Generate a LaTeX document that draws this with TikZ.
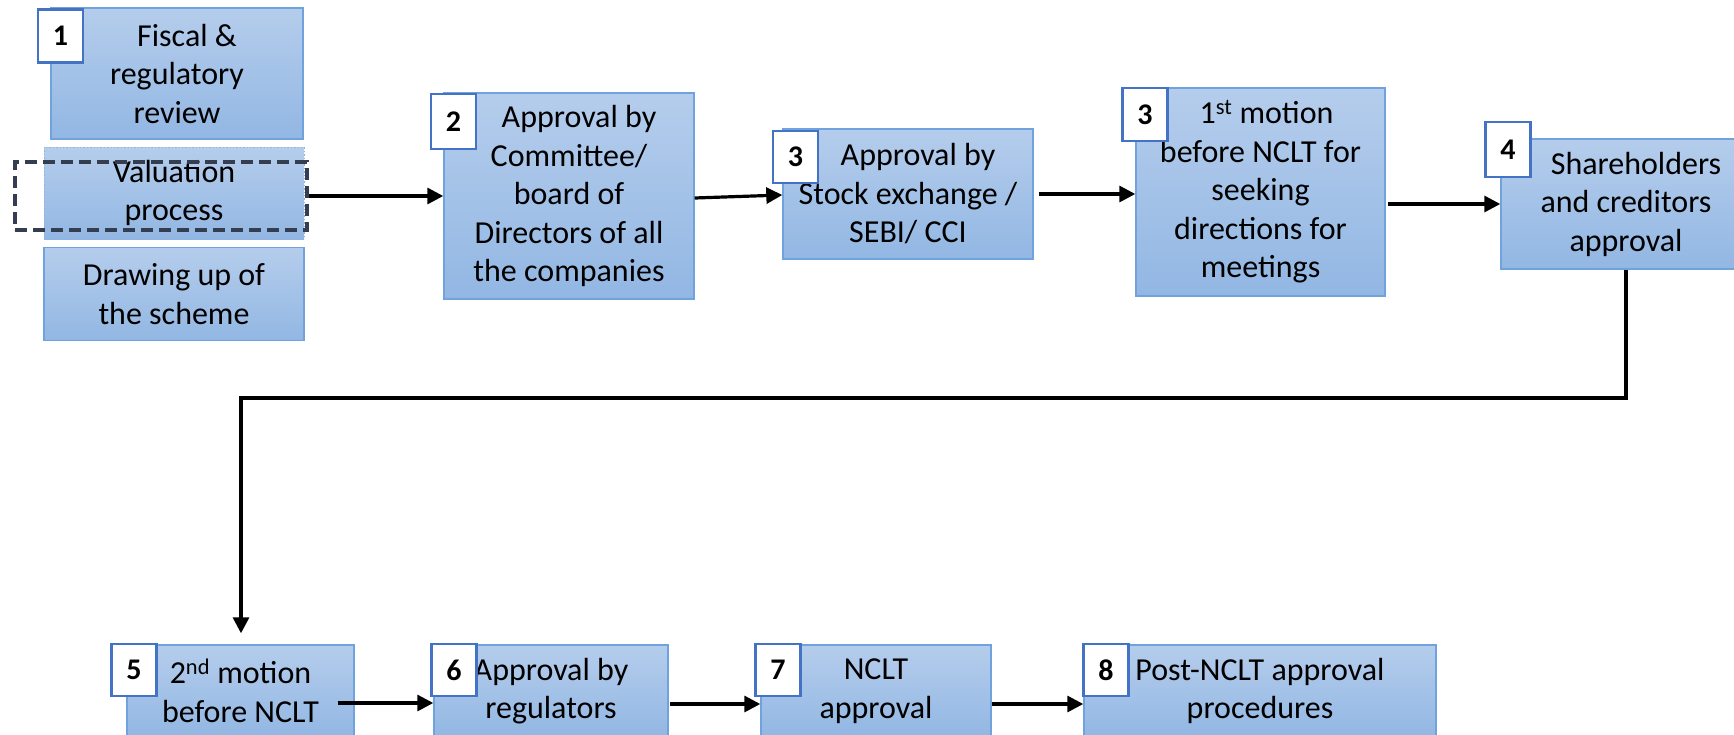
\documentclass[tikz,border=0pt]{standalone}
\usepackage{fontspec}
\setmainfont{Carlito}
\usetikzlibrary{arrows.meta}
\definecolor{boxtop}{RGB}{181,205,236}
\definecolor{boxbot}{RGB}{146,183,227}
\definecolor{boxline}{RGB}{112,162,221}
\definecolor{badgeline}{RGB}{68,114,196}
\definecolor{dashcol}{RGB}{52,62,80}
\tikzset{
  stepbox/.style={draw=boxline, line width=1.4pt, top color=boxtop, bottom color=boxbot,
    align=center, inner sep=0pt, font=\fontsize{32}{38.5}\selectfont, text=black},
  dotbox/.style={stepbox, draw=boxline!80, dotted, line width=1pt},
  dashrect/.style={draw=dashcol, line width=3.6pt, dash pattern=on 12pt off 6pt, inner sep=0pt},
  badge/.style={draw=badgeline, line width=2.4pt, fill=white, inner sep=0pt,
    minimum width=45pt, minimum height=53pt, font=\fontsize{30}{32}\selectfont\bfseries},
  arr/.style={draw=black, line width=3.2pt, -{Triangle[length=16pt,width=16pt]}}
}
\newcommand{\lead}{\hspace*{20pt}}
\begin{document}
\begin{tikzpicture}[x=1pt,y=-1pt]
\useasboundingbox (0,0) rectangle (1734,734);
\clip (0,0) rectangle (1734,734);
% column 1
\node[stepbox, minimum width=252pt, minimum height=131pt] (b1a) at (177,73.5) {\lead Fiscal \&\\regulatory\\review};
\node[badge] (n1) at (60.5,36) {1};
\node[dotbox, minimum width=260pt, minimum height=92pt] (b1b) at (174,193) {Valuation\\process};
\node[dashrect, minimum width=292pt, minimum height=68pt] (d1) at (161,196) {};
\node[stepbox, minimum width=260pt, minimum height=93pt] (b1c) at (174,294) {Drawing up of\\the scheme};
% top row
\node[stepbox, minimum width=250pt, minimum height=206pt] (b2) at (569,196) {\lead Approval by\\Committee/\\board of\\Directors of all\\the companies};
\node[badge, minimum height=55pt] (n2) at (453.5,121.5) {2};
\node[stepbox, minimum width=250pt, minimum height=130pt] (b3a) at (908,194) {\lead Approval by\\Stock exchange /\\SEBI/ CCI};
\node[badge, minimum height=52pt] (n3a) at (795.5,157) {3};
\node[stepbox, minimum width=249pt, minimum height=208pt] (b3b) at (1260.5,192) {\hspace*{12pt}1\textsuperscript{st} motion\\before NCLT for\\seeking\\directions for\\meetings};
\node[badge] (n3b) at (1145,114.5) {3};
\node[stepbox, minimum width=250pt, minimum height=130pt] (b4) at (1626,204) {\lead Shareholders\\and creditors\\approval};
\node[badge, minimum height=55pt] (n4) at (1508,149.5) {4};
% bottom row
\node[stepbox, minimum width=227pt, minimum height=92pt] (b5) at (240.5,691) {2\textsuperscript{nd} motion\\before NCLT};
\node[badge, minimum height=52pt] (n5) at (134,670) {5};
\node[stepbox, minimum width=234pt, minimum height=92pt] (b6) at (551,691) {Approval by\\regulators};
\node[badge, minimum height=52pt] (n6) at (454,670) {6};
\node[stepbox, minimum width=230pt, minimum height=92pt] (b7) at (876,691) {NCLT\\approval};
\node[badge, minimum height=52pt] (n7) at (778,670) {7};
\node[stepbox, minimum width=352pt, minimum height=92pt] (b8) at (1260,691) {Post-NCLT approval\\procedures};
\node[badge, minimum height=52pt] (n8) at (1106,670) {8};
% connectors
\coordinate (turn) at (241,398);
\draw[arr] (d1.east) -- (d1.east -| b2.west);
\draw[arr] ([yshift=-2pt]b2.east) -- ([yshift=-1pt]b3a.west);
\draw[arr] ([xshift=5pt]b3a.east) -- (b3a.east -| b3b.west);
\draw[arr] (b4.west -| b3b.east) ++(2pt,0) -- (b4.west);
\draw[arr, shorten >=11pt] (b4.south) |- (turn) -- (turn |- b5.north);
\draw[arr] ([xshift=-17pt,yshift=-12pt]b5.east) -- ([yshift=-12pt]b6.west);
\draw[arr] ([xshift=1pt,yshift=-13pt]b6.east) -- ([yshift=-13pt]b7.west);
\draw[arr] ([yshift=-13pt]b7.east) -- ([yshift=-13pt]b8.west);
\end{tikzpicture}
\end{document}
